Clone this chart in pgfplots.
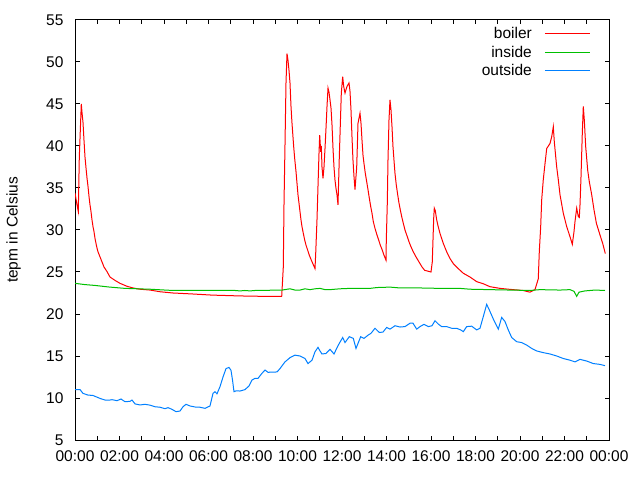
\documentclass[border=0pt]{standalone}
\usepackage{fontspec}
\setmainfont{Liberation Sans}
\usepackage{pgfplots}
\pgfplotsset{compat=1.18}
\definecolor{gpred}{HTML}{FF0000}
\definecolor{gpgreen}{HTML}{00C000}
\definecolor{gpblue}{HTML}{0080FF}
\newcommand{\gpfont}{\fontsize{15.5}{18}\selectfont}
\begin{document}
\begin{tikzpicture}[x=1pt,y=1pt]
\path[use as bounding box, fill=white] (0,0) rectangle (640,480);
\begin{axis}[
  at={(75pt,40pt)}, anchor=south west,
  scale only axis, width=534pt, height=420pt,
  xmin=0, xmax=24, ymin=5, ymax=55,
  axis line style={line width=1pt, black},
  xtick={0,2,...,24},
  xticklabels={00:00,02:00,04:00,06:00,08:00,10:00,12:00,14:00,16:00,18:00,20:00,22:00,00:00},
  minor x tick num=1,
  ytick={5,10,...,55},
  major tick length=4.5pt, minor tick length=4.5pt,
  tick style={line width=1pt, black},
  tick align=inside,
  /pgf/number format/assume math mode=true,
  tick label style={font=\gpfont},
  xticklabel style={yshift=-7pt},
  yticklabel style={xshift=-8pt},
  ylabel={tepm in Celsius},
  every axis y label/.style={at={(axis description cs:0,0.5)}, xshift=-61.5pt, rotate=90, anchor=center, font=\gpfont},
]
\addplot[gpred, line width=1pt] coordinates {
(0.000,34.4) (0.090,33.0) (0.148,32.2) (0.193,38.6) (0.283,45.0) (0.315,44.0) (0.360,42.8) (0.404,40.7)
(0.449,38.7) (0.494,37.4) (0.539,36.2) (0.584,35.2) (0.629,34.0) (0.674,33.0) (0.719,32.2) (0.764,31.2)
(0.809,30.4) (0.854,29.8) (0.899,29.0) (0.944,28.4) (0.989,27.85) (1.034,27.4) (1.124,26.8) (1.213,26.2)
(1.303,25.6) (1.438,25.05) (1.573,24.4) (1.798,24.0) (2.022,23.65) (2.337,23.3) (2.607,23.1) (2.921,22.95)
(3.371,22.85) (3.820,22.65) (4.404,22.5) (5.169,22.4) (6.157,22.25) (7.416,22.15) (8.494,22.1) (9.290,22.1)
(9.362,25.6) (9.393,33.0) (9.438,40.1) (9.483,47.5) (9.528,51.0) (9.573,50.2) (9.618,49.0) (9.663,47.5)
(9.708,44.7) (9.753,42.7) (9.829,39.9) (9.874,38.5) (9.933,36.95) (9.978,35.55) (10.022,34.2) (10.067,33.2)
(10.112,32.2) (10.157,31.2) (10.202,30.4) (10.261,29.6) (10.324,28.8) (10.382,28.2) (10.458,27.6) (10.530,27.0)
(10.607,26.5) (10.697,25.95) (10.787,25.4) (10.818,27.2) (10.876,31.2) (10.921,35.2) (10.966,39.1) (10.998,41.3)
(11.043,39.3) (11.070,40.0) (11.101,37.5) (11.146,36.15) (11.191,37.5) (11.236,39.7) (11.281,42.1) (11.326,44.7)
(11.371,46.9) (11.416,46.4) (11.461,45.5) (11.506,44.5) (11.551,42.5) (11.596,39.7) (11.640,37.5) (11.685,35.95)
(11.730,34.95) (11.775,34.2) (11.820,33.0) (11.879,38.7) (11.924,42.5) (11.969,46.3) (12.031,48.25) (12.076,47.1)
(12.135,46.3) (12.225,47.1) (12.315,47.5) (12.360,46.5) (12.404,44.3) (12.449,41.1) (12.494,38.3) (12.539,36.35)
(12.584,34.8) (12.661,37.5) (12.688,39.9) (12.719,42.7) (12.809,43.9) (12.854,42.7) (12.899,40.7) (12.944,38.9)
(12.989,37.9) (13.047,36.75) (13.110,35.75) (13.169,34.8) (13.227,33.8) (13.290,32.8) (13.348,32.0) (13.407,31.0)
(13.483,30.2) (13.573,29.4) (13.649,28.8) (13.721,28.2) (13.811,27.6) (13.888,27.0) (13.978,26.4) (13.991,28.8)
(14.036,33.2) (14.067,38.3) (14.112,43.1) (14.157,45.5) (14.202,44.3) (14.247,42.3) (14.292,39.9) (14.337,38.3)
(14.382,36.75) (14.440,35.35) (14.503,34.2) (14.562,33.2) (14.620,32.4) (14.683,31.6) (14.755,30.8) (14.831,30.0)
(14.935,29.2) (15.011,28.6) (15.101,28.0) (15.204,27.4) (15.326,26.8) (15.461,26.2) (15.596,25.6) (15.717,25.2)
(16.000,25.0) (16.058,26.2) (16.121,31.4) (16.148,32.6) (16.193,32.3) (16.256,31.2) (16.315,30.5) (16.404,29.6)
(16.553,28.4) (16.706,27.4) (16.854,26.6) (17.002,26.0) (17.227,25.4) (17.452,24.85) (17.753,24.4) (18.054,23.85)
(18.351,23.6) (18.652,23.25) (19.101,23.05) (19.685,22.9) (20.135,22.8) (20.449,22.6) (20.674,22.9) (20.822,24.2)
(20.867,27.4) (20.930,30.4) (20.975,33.6) (21.047,36.0) (21.124,37.9) (21.200,39.7) (21.348,40.3) (21.425,41.1)
(21.497,42.3) (21.542,40.5) (21.649,37.5) (21.721,36.0) (21.798,34.2) (21.946,32.0) (22.099,30.4) (22.247,29.2)
(22.351,28.3) (22.427,29.8) (22.472,31.0) (22.548,32.6) (22.620,31.6) (22.665,31.5) (22.697,33.0) (22.742,36.35)
(22.800,41.5) (22.845,44.7) (22.890,43.1) (22.953,39.9) (23.043,37.1) (23.115,35.75) (23.222,34.2) (23.326,32.4)
(23.433,30.8) (23.596,29.4) (23.717,28.4) (23.834,27.2)
};
\addplot[gpgreen, line width=1pt] coordinates {
(0,23.65) (0.449,23.5) (0.899,23.4) (1.573,23.2) (2.247,23.05) (3.371,22.95) (4.404,22.8) (7.191,22.8)
(7.416,22.75) (7.640,22.8) (7.865,22.75) (8.090,22.8) (9.303,22.85) (9.663,23.0) (9.888,22.85) (10.112,22.85)
(10.337,23.0) (10.562,22.9) (10.787,23.0) (11.011,23.05) (11.236,22.9) (11.461,22.9) (11.910,23.0) (12.360,23.05)
(12.809,23.05) (13.258,23.05) (13.573,23.15) (14.157,23.2) (14.607,23.1) (15.506,23.1) (16.404,23.05) (17.303,23.05)
(17.753,22.95) (18.652,22.9) (19.551,22.85) (20.449,22.8) (20.899,22.9) (21.798,22.85) (22.247,22.9) (22.427,22.7)
(22.548,22.1) (22.652,22.6) (22.921,22.75) (23.371,22.85) (23.820,22.8)
};
\addplot[gpblue, line width=1pt] coordinates {
(0,11.0) (0.225,11.0) (0.360,10.55) (0.584,10.35) (0.809,10.3) (1.124,9.95) (1.348,9.76) (1.573,9.76)
(1.663,9.8) (1.888,9.68) (2.067,9.88) (2.247,9.56) (2.472,9.6) (2.562,9.76) (2.697,9.3) (2.921,9.17)
(3.146,9.25) (3.371,9.15) (3.596,8.96) (3.820,8.9) (4.045,8.73) (4.180,8.85) (4.360,8.65) (4.539,8.37)
(4.719,8.45) (4.854,8.96) (4.989,9.25) (5.169,9.05) (5.393,8.93) (5.618,8.9) (5.843,8.77) (6.067,9.05)
(6.202,10.55) (6.292,10.75) (6.382,10.5) (6.517,11.35) (6.652,12.5) (6.787,13.5) (6.921,13.64) (7.011,13.3)
(7.079,12.14) (7.146,10.75) (7.236,10.85) (7.416,10.83) (7.640,11.0) (7.820,11.43) (7.955,12.14) (8.090,12.34)
(8.225,12.34) (8.404,12.94) (8.539,13.33) (8.674,13.06) (9.079,13.1) (9.213,13.5) (9.438,14.3) (9.663,14.8)
(9.888,15.1) (10.112,15.0) (10.337,14.7) (10.472,14.1) (10.652,14.5) (10.787,15.5) (10.921,16.03) (11.011,15.6)
(11.101,15.24) (11.281,15.3) (11.461,15.8) (11.640,15.24) (11.834,16.3) (12.031,17.2) (12.135,16.6) (12.328,17.3)
(12.508,17.1) (12.629,15.9) (12.840,17.3) (12.989,17.1) (13.182,17.5) (13.303,17.7) (13.483,18.3) (13.676,17.8)
(13.843,17.85) (14.009,18.4) (14.157,18.2) (14.382,18.6) (14.607,18.45) (14.831,18.5) (15.056,18.9) (15.191,18.9)
(15.357,18.2) (15.506,18.5) (15.685,18.77) (15.879,18.5) (16.045,18.6) (16.180,19.2) (16.328,18.8) (16.481,18.5)
(16.706,18.5) (16.930,18.3) (17.155,18.3) (17.335,18.1) (17.452,17.9) (17.604,18.5) (17.829,18.55) (18.054,18.1)
(18.202,18.3) (18.351,19.7) (18.503,21.15) (18.652,20.3) (18.800,19.4) (19.025,18.2) (19.177,19.6) (19.326,19.1)
(19.474,18.1) (19.627,17.2) (19.852,16.7) (20.076,16.6) (20.301,16.3) (20.526,15.9) (20.751,15.6) (21.047,15.4)
(21.348,15.24) (21.649,15.0) (21.946,14.7) (22.247,14.5) (22.472,14.3) (22.697,14.6) (22.997,14.4) (23.294,14.1)
(23.596,14.0) (23.820,13.85)
};
% legend (text right-aligned, sample line to its right, as gnuplot draws it)
\node[anchor=base east, inner sep=0pt, yshift=-5pt, font=\gpfont] at (rel axis cs:0.8558,0.9683) {boiler};
\node[anchor=base east, inner sep=0pt, yshift=-5pt, font=\gpfont] at (rel axis cs:0.8558,0.9231) {inside};
\node[anchor=base east, inner sep=0pt, yshift=-5pt, font=\gpfont] at (rel axis cs:0.8558,0.8786) {outside};
\draw[gpred, line width=1pt] (rel axis cs:0.8801,0.9683) -- (rel axis cs:0.9644,0.9683);
\draw[gpgreen, line width=1pt] (rel axis cs:0.8801,0.9231) -- (rel axis cs:0.9644,0.9231);
\draw[gpblue, line width=1pt] (rel axis cs:0.8801,0.8786) -- (rel axis cs:0.9644,0.8786);
\end{axis}
\end{tikzpicture}
\end{document}
